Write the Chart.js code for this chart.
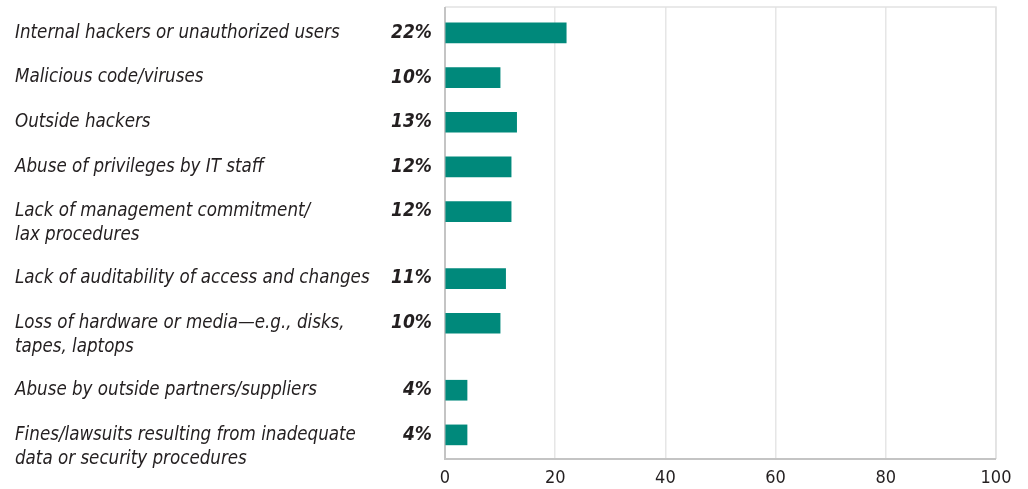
<!DOCTYPE html>
<html>
<head>
<meta charset="utf-8">
<script src="https://cdn.jsdelivr.net/npm/chart.js@4"></script>
<style>
  html, body { margin: 0; padding: 0; background: #ffffff; }
  #wrap { width: 1028px; height: 489px; }
</style>
</head>
<body>
<div id="wrap"><canvas id="chart" width="1028" height="489"></canvas></div>
<script>
// Risk categories (each entry is one or two text lines)
const categories = [
  ["Internal hackers or unauthorized users"],
  ["Malicious code/viruses"],
  ["Outside hackers"],
  ["Abuse of privileges by IT staff"],
  ["Lack of management commitment/", "lax procedures"],
  ["Lack of auditability of access and changes"],
  ["Loss of hardware or media\u2014e.g., disks,", "tapes, laptops"],
  ["Abuse by outside partners/suppliers"],
  ["Fines/lawsuits resulting from inadequate", "data or security procedures"]
];
// Share of respondents, percent
const values = [22, 10, 13, 12, 12, 11, 10, 4, 4];
const xTicks = [0, 20, 40, 60, 80, 100];

// Row positions on the y scale: a one-line row takes 2 units, a two-line row 3
const rowPos = [];
{
  let p = 0;
  for (const c of categories) { rowPos.push(p); p += c.length > 1 ? 3 : 2; }
}

const LABEL_FONT = "'DejaVu Sans Condensed', 'Liberation Sans Narrow', sans-serif";
const TEXT = '#231f20';

const labelPlugin = {
  id: 'rowLabels',
  beforeDatasetsDraw(chart) {
    const { ctx, chartArea: a } = chart;
    ctx.save();
    // frame around the plot
    ctx.lineWidth = 1.5;
    ctx.strokeStyle = '#e2e2e2';
    ctx.beginPath();
    ctx.moveTo(a.left, a.top); ctx.lineTo(a.right, a.top); ctx.lineTo(a.right, a.bottom);
    ctx.stroke();
    ctx.strokeStyle = '#c4c4c4';
    ctx.lineWidth = 2;
    ctx.beginPath();
    ctx.moveTo(a.left, a.top); ctx.lineTo(a.left, a.bottom); ctx.lineTo(a.right, a.bottom);
    ctx.stroke();
    ctx.restore();
  },
  afterDatasetsDraw(chart) {
    const { ctx } = chart;
    const y = chart.scales.y;
    ctx.save();
    ctx.fillStyle = TEXT;
    ctx.textBaseline = 'middle';
    categories.forEach((lines, i) => {
      const py = y.getPixelForValue(rowPos[i]);
      ctx.font = "italic 18.6px " + LABEL_FONT;
      ctx.textAlign = 'left';
      lines.forEach((t, k) => ctx.fillText(t, 15, py + k * 24));
      ctx.font = "italic bold 19px " + LABEL_FONT;
      ctx.textAlign = 'right';
      ctx.fillText(values[i] + '%', 432, py);
    });
    ctx.restore();
  }
};

new Chart(document.getElementById('chart'), {
  type: 'bar',
  data: {
    datasets: [{
      data: values.map((v, i) => ({ x: v, y: rowPos[i] })),
      backgroundColor: '#00897b',
      borderWidth: 0,
      barThickness: 20
    }]
  },
  options: {
    indexAxis: 'y',
    responsive: false,
    animation: false,
    devicePixelRatio: 1,
    layout: { padding: { left: 445, right: 32, top: 7, bottom: 0 } },
    plugins: { legend: { display: false }, tooltip: { enabled: false } },
    scales: {
      x: {
        type: 'linear',
        min: 0, max: 100,
        afterBuildTicks: (s) => { s.ticks = xTicks.map(v => ({ value: v })); },
        afterFit: (s) => { s.height = 30; },
        grid: { color: '#e6e6e6', lineWidth: 1.5, drawTicks: false },
        border: { display: false },
        ticks: {
          padding: 9,
          color: TEXT,
          font: { family: LABEL_FONT, size: 18 }
        }
      },
      y: {
        type: 'linear',
        reverse: true,
        offset: false,
        min: -1.16, max: 19.08,
        display: false
      }
    }
  },
  plugins: [labelPlugin]
});
</script>
</body>
</html>
